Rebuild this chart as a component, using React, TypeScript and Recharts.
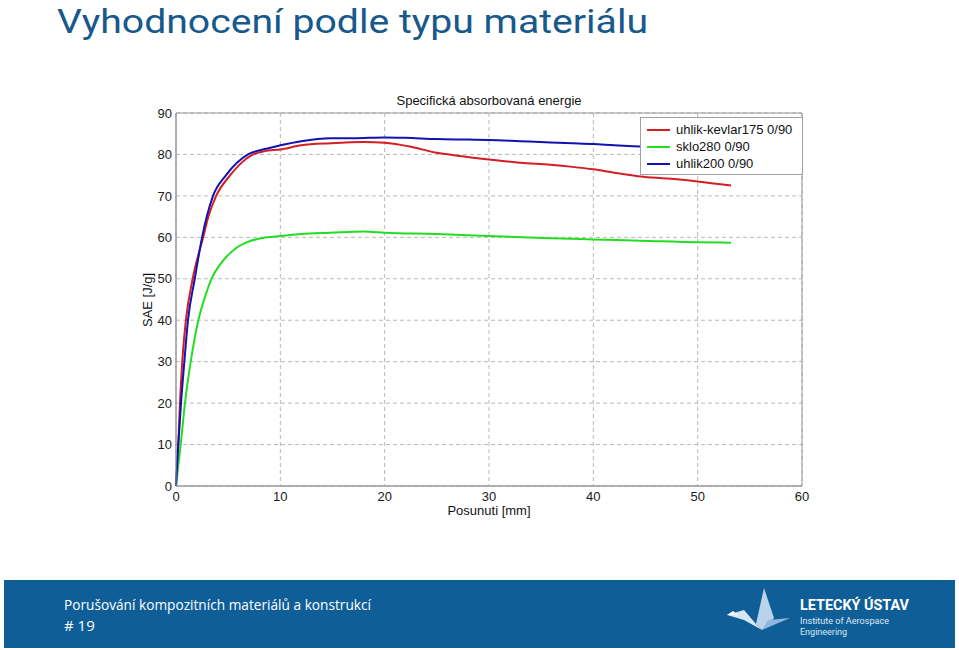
import { LineChart, Line, XAxis, YAxis, CartesianGrid, ReferenceArea } from 'recharts'

const xTicks = [0, 10, 20, 30, 40, 50, 60]
const yTicks = [0, 10, 20, 30, 40, 50, 60, 70, 80, 90]

// uhlik-kevlar175 0/90
const kevlarX = [0, 0.22, 0.38, 0.6, 0.95, 1.6, 2.6, 3.1, 3.85, 5.2, 6.0, 7.4, 8.5, 10, 12, 14.8, 18, 20, 22.4, 25, 27, 30, 33, 35.9, 38, 40, 42, 44.5, 47, 50, 53.2]
const kevlarY = [0, 10, 20, 30, 40, 50, 60, 65, 70, 75, 77.3, 80, 80.8, 81.2, 82.2, 82.7, 83.0, 82.8, 81.9, 80.4, 79.7, 78.8, 78.0, 77.5, 77.0, 76.4, 75.6, 74.7, 74.2, 73.5, 72.5]

// sklo280 0/90
const skloX = [0, 0.45, 0.86, 1.41, 2.14, 2.7, 3.4, 4.4, 5.8, 7.0, 8.7, 10, 12, 14.8, 18, 20, 25, 30, 35.9, 40, 44.5, 50, 53.2]
const skloY = [0, 10, 20, 30, 40, 45, 50, 54, 57.5, 59, 60, 60.3, 60.8, 61.1, 61.4, 61.1, 60.8, 60.3, 59.8, 59.5, 59.2, 58.8, 58.7]

// uhlik200 0/90
const uhlikX = [0, 0.22, 0.48, 0.8, 1.15, 1.8, 2.5, 2.95, 3.55, 4.8, 6.9, 8.5, 10, 12, 14.8, 17, 20, 22, 25, 28, 30, 33, 35.9, 38, 40, 42, 44.5, 47, 50, 53.2]
const uhlikY = [0, 10, 20, 30, 40, 50, 60, 65, 70, 75, 80, 81.3, 82.2, 83.2, 83.9, 83.9, 84.1, 84.0, 83.7, 83.6, 83.5, 83.2, 82.9, 82.7, 82.5, 82.2, 81.9, 81.6, 81.3, 81.0]

const toPoints = (xs: number[], ys: number[]) => xs.map((x, i) => ({ x, y: ys[i] }))

const series = [
  { name: 'uhlik-kevlar175 0/90', color: '#d41e22', data: toPoints(kevlarX, kevlarY) },
  { name: 'sklo280 0/90', color: '#22dd22', data: toPoints(skloX, skloY) },
  { name: 'uhlik200 0/90', color: '#1212b0', data: toPoints(uhlikX, uhlikY) },
]

const chartFont = '"Liberation Sans", Arial, sans-serif'
const slideFont = '"Open Sans", "Noto Sans", sans-serif'
const axisColor = '#9a9a9a'
const tickStyle = { fill: '#1a1a1a', fontSize: 13, fontFamily: chartFont }

// key box, placed over the top-right corner of the plot like the original
const LegendBox = () => (
  <div
    style={{
      position: 'absolute',
      left: 640,
      top: 117,
      width: 155,
      height: 53,
      background: '#fff',
      border: '1px solid #a0a0a0',
      padding: '3px 0 0 6px',
      fontFamily: chartFont,
      fontSize: 13,
      color: '#111',
    }}
  >
    {series.map((s) => (
      <div key={s.name} style={{ display: 'flex', alignItems: 'center', height: 17 }}>
        <svg width={23} height={4} style={{ marginRight: 6 }}>
          <line x1={0} y1={2} x2={23} y2={2} stroke={s.color} strokeWidth={2} />
        </svg>
        <span>{s.name}</span>
      </div>
    ))}
  </div>
)

const centered = (top: number): React.CSSProperties => ({
  position: 'absolute',
  left: 0,
  width: 978,
  top,
  textAlign: 'center',
  fontFamily: chartFont,
  fontSize: 13,
  color: '#111',
})

export default function App() {
  return (
    <div style={{ position: 'absolute', left: 0, top: 0, width: 959, height: 650, background: '#fff', overflow: 'hidden' }}>
      <svg width={959} height={50} style={{ position: 'absolute', left: 0, top: 0 }}>
        <text x={57} y={32.5} textLength={591} lengthAdjust="spacingAndGlyphs" fill="#17598c" fontSize={34} fontFamily='Roboto, "Open Sans", sans-serif'>
          Vyhodnocení podle typu materiálu
        </text>
      </svg>

      <LineChart
        width={959}
        height={650}
        margin={{ top: 113, right: 157, bottom: 134, left: 136 }}
        style={{ position: 'absolute', left: 0, top: 0 }}
      >
        <CartesianGrid stroke="#b8b8b8" strokeDasharray="4 3" />
        <XAxis
          type="number"
          dataKey="x"
          domain={[0, 60]}
          ticks={xTicks}
          allowDuplicatedCategory={false}
          height={30}
          tickLine={false}
          tickSize={0}
          tickMargin={6}
          stroke={axisColor}
          tick={tickStyle}
        />
        <YAxis
          type="number"
          dataKey="y"
          domain={[0, 90]}
          ticks={yTicks}
          width={40}
          tickLine={false}
          tickSize={0}
          tickMargin={4}
          stroke={axisColor}
          tick={tickStyle}
        />
        {series.map((s) => (
          <Line
            key={s.name}
            data={s.data}
            dataKey="y"
            name={s.name}
            type="monotone"
            stroke={s.color}
            strokeWidth={2}
            dot={false}
            activeDot={false}
            isAnimationActive={false}
          />
        ))}
        <ReferenceArea x1={0} x2={60} y1={0} y2={90} fill="none" stroke={axisColor} strokeWidth={1} />
      </LineChart>

      <LegendBox />

      <div style={centered(93)}>Specifická absorbovaná energie</div>
      <div style={centered(503)}>Posunuti [mm]</div>
      <div
        style={{
          position: 'absolute',
          left: 147,
          top: 300,
          transform: 'translate(-50%, -50%) rotate(-90deg)',
          whiteSpace: 'nowrap',
          fontFamily: chartFont,
          fontSize: 13,
          color: '#111',
        }}
      >
        SAE [J/g]
      </div>

      <div style={{ position: 'absolute', left: 4, top: 580, width: 951, height: 68, background: '#0f5e98' }} />
      <svg width={959} height={70} style={{ position: 'absolute', left: 0, top: 580 }}>
        <text x={64} y={30} textLength={307} lengthAdjust="spacingAndGlyphs" fill="#fff" fontSize={15} fontFamily={slideFont}>
          Porušování kompozitních materiálů a konstrukcí
        </text>
        <text x={64} y={51} fill="#fff" fontSize={15} fontFamily={slideFont}>
          # 19
        </text>
        {/* logo */}
        <polygon points="764,8 756,44 762,50 774,38" fill="#b9d3ea" />
        <polygon points="756,44 744,30 727,35 744,40 762,50" fill="#d7e6f4" />
        <polygon points="762,50 790,38 768,40" fill="#8fb6dc" />
        <polygon points="727,35 733,31 738,35" fill="#ffffff" />
        <text x={800} y={30} fill="#fff" fontSize={15} fontWeight="bold" fontFamily='"Liberation Sans Narrow", "Roboto", sans-serif' textLength={109} lengthAdjust="spacingAndGlyphs">
          LETECKÝ ÚSTAV
        </text>
        <text x={800} y={44} fill="#dce9f5" fontSize={9} fontFamily='"Roboto", sans-serif' textLength={89} lengthAdjust="spacingAndGlyphs">
          Institute of Aerospace
        </text>
        <text x={800} y={55} fill="#dce9f5" fontSize={9} fontFamily='"Roboto", sans-serif'>
          Engineering
        </text>
      </svg>
    </div>
  )
}
